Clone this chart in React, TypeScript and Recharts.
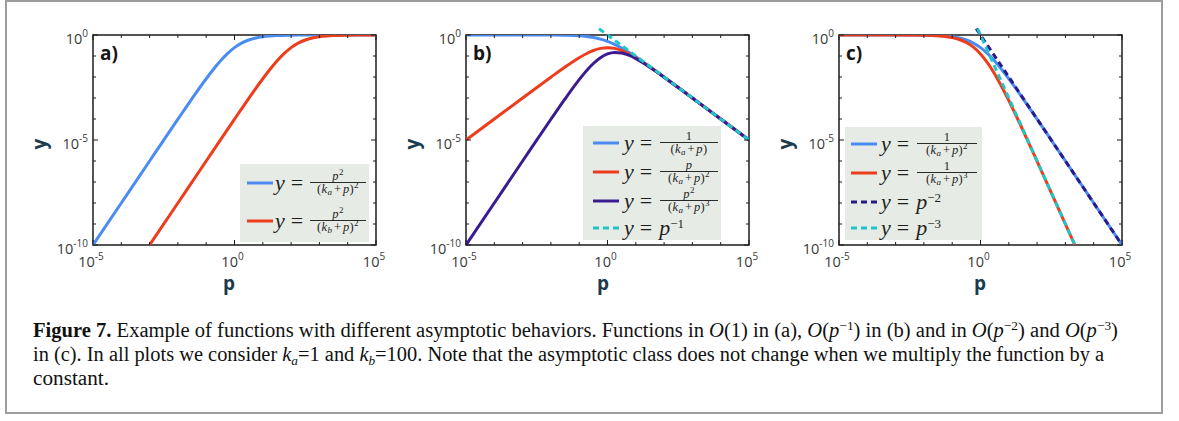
import React from 'react';
import { LineChart, Line, XAxis, YAxis, ReferenceArea } from 'recharts';

// ---- data (log10 p, log10 y) ----
const X_TICKS = [-5, -4, -3, -2, -1, 0, 1, 2, 3, 4, 5];
const Y_TICKS = [-10, -9, -8, -7, -6, -5, -4, -3, -2, -1, 0];

const P_GRID = [-5, -4, -3, -2, -1.5, -1, -0.75, -0.5, -0.25, 0, 0.25, 0.5, 0.75, 1, 1.25, 1.5, 2, 2.5, 3, 4, 5];

// panel a
const A_BLUE = [-10, -8, -6.001, -4.009, -3.027, -2.083, -1.643, -1.239, -0.887, -0.602, -0.388, -0.239, -0.142, -0.083, -0.048, -0.027, -0.009, -0.003, -0.001, 0, 0];
const P_A_RED = [-3, -2, -1, 0, 0.5, 1, 1.25, 1.5, 1.75, 2, 2.25, 2.5, 2.75, 3, 3.25, 3.5, 4, 4.5, 5];
const A_RED = [-10, -8, -6.001, -4.009, -3.027, -2.083, -1.643, -1.239, -0.887, -0.602, -0.388, -0.239, -0.142, -0.083, -0.048, -0.027, -0.009, -0.003, -0.001];

// panel b
const B_BLUE = [0, 0, -0.0004, -0.004, -0.014, -0.041, -0.071, -0.119, -0.194, -0.301, -0.444, -0.619, -0.821, -1.041, -1.274, -1.514, -2.004, -2.501, -3, -4, -5];
const B_RED = [-5, -4, -3.001, -2.009, -1.527, -1.083, -0.892, -0.739, -0.638, -0.602, -0.638, -0.739, -0.892, -1.083, -1.297, -1.527, -2.009, -2.503, -3.001, -4, -5];
const B_PURPLE = [-10, -8, -6.001, -4.013, -3.041, -2.124, -1.713, -1.358, -1.081, -0.903, -0.831, -0.858, -0.963, -1.124, -1.321, -1.541, -2.013, -2.504, -3.001, -4, -5];
const P_B_CYAN = [-0.3, 5];
const B_CYAN = [0.3, -5];

// panel c
const C_BLUE = [0, 0, -0.001, -0.009, -0.027, -0.083, -0.142, -0.239, -0.388, -0.602, -0.887, -1.239, -1.642, -2.083, -2.547, -3.027, -4.009, -5.003, -6.001, -8, -10];
const P_C_RED = [-5, -4, -3, -2, -1.5, -1, -0.75, -0.5, -0.25, 0, 0.25, 0.5, 0.75, 1, 1.25, 1.5, 2, 2.5, 3, 3.333];
const C_RED = [0, 0, -0.001, -0.013, -0.041, -0.124, -0.213, -0.358, -0.581, -0.903, -1.331, -1.858, -2.463, -3.124, -3.821, -4.541, -6.013, -7.504, -9.001, -10];
const P_C_NAVY = [-0.15, 5];
const C_NAVY = [0.3, -10];
const P_C_CYAN = [-0.1, 3.333];
const C_CYAN = [0.3, -10];

const PANEL_LABELS = ['a)', 'b)', 'c)'];

const BLUE = '#4b8cf3';
const RED = '#ee3d1c';
const PURPLE = '#3b1b92';
const NAVY = '#2b1b88';
const CYAN = '#1fc6c8';

const zip = (xs: number[], ys: number[]) => xs.map((x, i) => ({ x, y: ys[i] }));

type Series = { data: { x: number; y: number }[]; color: string; dashed?: boolean };

const PANELS: Series[][] = [
  [
    { data: zip(P_GRID, A_BLUE), color: BLUE },
    { data: zip(P_A_RED, A_RED), color: RED },
  ],
  [
    { data: zip(P_GRID, B_BLUE), color: BLUE },
    { data: zip(P_GRID, B_RED), color: RED },
    { data: zip(P_GRID, B_PURPLE), color: PURPLE },
    { data: zip(P_B_CYAN, B_CYAN), color: CYAN, dashed: true },
  ],
  [
    { data: zip(P_GRID, C_BLUE), color: BLUE },
    { data: zip(P_C_RED, C_RED), color: RED },
    { data: zip(P_C_NAVY, C_NAVY), color: NAVY, dashed: true },
    { data: zip(P_C_CYAN, C_CYAN), color: CYAN, dashed: true },
  ],
];

const PLOT_W = 283;
const PLOT_H = 210;
const TICK_FONT = '"Open Sans", "Noto Sans", sans-serif';
const TICK_COLOR = '#3a3a3a';
const FRAME = '#1c1c1c';

const XTick = (props: any) => {
  const { x, y, payload } = props;
  const v = payload.value as number;
  const major = v % 5 === 0;
  const len = major ? 5 : 3;
  return (
    <g>
      <line x1={x} y1={y} x2={x} y2={y - len} stroke={FRAME} strokeWidth={1} />
      <line x1={x} y1={y - PLOT_H} x2={x} y2={y - PLOT_H + len} stroke={FRAME} strokeWidth={1} />
      {major && (
        <text x={x - 2} y={y + 22} textAnchor="middle" fontFamily={TICK_FONT} fontSize={14.5} fill={TICK_COLOR}>
          <tspan>10</tspan>
          <tspan dy={-7} fontSize={10}>{String(v)}</tspan>
        </text>
      )}
    </g>
  );
};

const YTick = (props: any) => {
  const { x, y, payload } = props;
  const v = payload.value as number;
  const major = v % 5 === 0;
  const len = major ? 5 : 3;
  return (
    <g>
      <line x1={x} y1={y} x2={x + len} y2={y} stroke={FRAME} strokeWidth={1} />
      <line x1={x + PLOT_W} y1={y} x2={x + PLOT_W - len} y2={y} stroke={FRAME} strokeWidth={1} />
      {major && (
        <text x={x - 5} y={y + 9} textAnchor="end" fontFamily={TICK_FONT} fontSize={14.5} fill={TICK_COLOR}>
          <tspan>10</tspan>
          <tspan dy={-7} fontSize={10}>{String(v)}</tspan>
        </text>
      )}
    </g>
  );
};

function Panel({ idx }: { idx: number }) {
  const series = PANELS[idx];
  return (
    <div style={{ position: 'absolute', left: 3 + 373 * idx, top: 0 }}>
      <LineChart width={385} height={300} margin={{ top: 35, right: 12, bottom: 0, left: 0 }}>
        <XAxis
          type="number"
          dataKey="x"
          domain={[-5, 5]}
          ticks={X_TICKS}
          allowDataOverflow
          axisLine={false}
          tickLine={false}
          tickSize={0}
          tickMargin={0}
          height={55}
          interval={0}
          tick={(p: any) => <XTick {...p} />}
        />
        <YAxis
          type="number"
          domain={[-10, 0]}
          ticks={Y_TICKS}
          allowDataOverflow
          axisLine={false}
          tickLine={false}
          tickSize={0}
          tickMargin={0}
          width={90}
          interval={0}
          tick={(p: any) => <YTick {...p} />}
        />
        <ReferenceArea x1={-5} x2={5} y1={-10} y2={0} fill="none" stroke={FRAME} strokeWidth={1.5} fillOpacity={0} />
        {series.map((s, i) => (
          <Line
            key={i}
            data={s.data}
            dataKey="y"
            type="monotone"
            stroke={s.color}
            strokeWidth={3}
            strokeDasharray={s.dashed ? '6 4' : undefined}
            dot={false}
            activeDot={false}
            isAnimationActive={false}
            className={s.dashed ? 'noclip' : undefined}
          />
        ))}
      </LineChart>
    </div>
  );
}

// ---------- legends ----------
const SERIF = '"Liberation Serif", "Times New Roman", serif';

const Frac = ({ num, den, width }: { num: React.ReactNode; den: React.ReactNode; width: number }) => (
  <div style={{ position: 'absolute', width, fontFamily: SERIF, fontSize: 12.5, letterSpacing: 0.4, color: '#1e1e1e', textAlign: 'center' }}>
    <div style={{ height: 12, lineHeight: '12px', whiteSpace: 'nowrap' }}>{num}</div>
    <div style={{ borderTop: '1px solid #2a2a2a', height: 12, lineHeight: '13px', whiteSpace: 'nowrap' }}>{den}</div>
  </div>
);

const Sup = ({ children }: { children: React.ReactNode }) => (
  <span style={{ fontSize: 9, position: 'relative', top: -5, lineHeight: 0 }}>{children}</span>
);
const Sub = ({ children }: { children: React.ReactNode }) => (
  <span style={{ fontSize: 9, position: 'relative', top: 2, lineHeight: 0, fontStyle: 'italic' }}>{children}</span>
);
const I = ({ children }: { children: React.ReactNode }) => <span style={{ fontStyle: 'italic' }}>{children}</span>;

const Den = ({ k, pow }: { k: string; pow?: string }) => (
  <span>
    (<I>k</I>
    <Sub>{k}</Sub>
    <span style={{ margin: '0 1.5px' }}>+</span>
    <I>p</I>){pow ? <Sup>{pow}</Sup> : null}
  </span>
);

type LegendEntry = { color: string; dashed?: boolean; cy: number; num?: React.ReactNode; den?: React.ReactNode; power?: string };

function LegendBox({
  left, top, width, height, sampleX, yX, fracX, fracW, entries,
}: {
  left: number; top: number; width: number; height: number; sampleX: number; yX: number; fracX: number; fracW: number; entries: LegendEntry[];
}) {
  return (
    <div style={{ position: 'absolute', left, top, width, height, background: '#e7ebe5' }}>
      {entries.map((e, i) => (
        <React.Fragment key={i}>
          <svg style={{ position: 'absolute', left: sampleX, top: e.cy - 3 }} width={26} height={6}>
            <line x1={0} y1={3} x2={26} y2={3} stroke={e.color} strokeWidth={3} strokeDasharray={e.dashed ? '6 4' : undefined} />
          </svg>
          <div style={{ position: 'absolute', left: yX, top: e.cy - 11, height: 22, fontFamily: SERIF, fontSize: 22, lineHeight: '22px', color: '#1e1e1e', whiteSpace: 'nowrap' }}>
            <I>y</I>
            <span style={{ marginLeft: 6 }}>=</span>
            {e.power !== undefined && (
              <span style={{ marginLeft: 7 }}>
                <I>p</I>
                <span style={{ fontSize: 13, position: 'relative', top: -7, lineHeight: 0 }}>{e.power}</span>
              </span>
            )}
          </div>
          {e.power === undefined && (
            <div style={{ position: 'absolute', left: fracX, top: e.cy - 13 }}>
              <Frac num={e.num} den={e.den} width={fracW} />
            </div>
          )}
        </React.Fragment>
      ))}
    </div>
  );
}

// ---------- caption ----------
const CAP_FONT = '"Liberation Serif", "Times New Roman", serif';

export default function App() {
  const axisLabelStyle = { fontFamily: '"Open Sans", "Noto Sans", sans-serif', fontWeight: 700 as const, fontSize: 19, fill: '#1c3b4e' };
  const pX = [229, 603, 980];
  return (
    <div style={{ position: 'absolute', left: 0, top: 0, width: 1179, height: 421, background: '#fff', overflow: 'hidden' }}>
      <style>{`.noclip, .noclip * { clip-path: none !important; }`}</style>
      <div style={{ position: 'absolute', left: 5, top: 0, width: 1154, height: 410, border: '2px solid #9d9d9d' }} />
      {[0, 1, 2].map((i) => (
        <Panel key={i} idx={i} />
      ))}
      <svg style={{ position: 'absolute', left: 0, top: 0, pointerEvents: 'none' }} width={1179} height={421}>
        {[0, 1, 2].map((i) => (
          <g key={i}>
            <text x={93 + 373 * i + 7} y={60} fontFamily='"Open Sans", "Noto Sans", sans-serif' fontWeight={700} fontSize={19} fill="#151515">
              {PANEL_LABELS[i]}
            </text>
            <text x={pX[i]} y={290} textAnchor="middle" {...axisLabelStyle}>p</text>
            <text x={0} y={0} textAnchor="middle" transform={`translate(${46 + 373 * i},144) rotate(-90)`} {...axisLabelStyle}>y</text>
          </g>
        ))}
        <g fontFamily={CAP_FONT} fontSize={20} fill="#111">
          <text x={33} y={337} textLength={1085} lengthAdjust="spacingAndGlyphs">
            <tspan fontWeight={700}>Figure 7.</tspan>
            <tspan> Example of functions with different asymptotic behaviors. Functions in </tspan>
            <tspan fontStyle="italic">O</tspan>
            <tspan>(1) in (a), </tspan>
            <tspan fontStyle="italic">O</tspan>
            <tspan>(</tspan>
            <tspan fontStyle="italic">p</tspan>
            <tspan dy={-7} fontSize={13}>−1</tspan>
            <tspan dy={7}>) in (b) and in </tspan>
            <tspan fontStyle="italic">O</tspan>
            <tspan>(</tspan>
            <tspan fontStyle="italic">p</tspan>
            <tspan dy={-7} fontSize={13}>−2</tspan>
            <tspan dy={7}>) and </tspan>
            <tspan fontStyle="italic">O</tspan>
            <tspan>(</tspan>
            <tspan fontStyle="italic">p</tspan>
            <tspan dy={-7} fontSize={13}>−3</tspan>
            <tspan dy={7}>)</tspan>
          </text>
          <text x={33} y={361} textLength={1071} lengthAdjust="spacingAndGlyphs">
            <tspan>in (c). In all plots we consider </tspan>
            <tspan fontStyle="italic">k</tspan>
            <tspan dy={4} fontSize={13} fontStyle="italic">a</tspan>
            <tspan dy={-4}>=1 and </tspan>
            <tspan fontStyle="italic">k</tspan>
            <tspan dy={4} fontSize={13} fontStyle="italic">b</tspan>
            <tspan dy={-4}>=100. Note that the asymptotic class does not change when we multiply the function by a</tspan>
          </text>
          <text x={33} y={385} textLength={76} lengthAdjust="spacingAndGlyphs">constant.</text>
        </g>
      </svg>
      <LegendBox
        left={240} top={164} width={129} height={78}
        sampleX={7} yX={35} fracX={70} fracW={56}
        entries={[
          { color: BLUE, cy: 19, num: <span><I>p</I><Sup>2</Sup></span>, den: <Den k="a" pow="2" /> },
          { color: RED, cy: 57, num: <span><I>p</I><Sup>2</Sup></span>, den: <Den k="b" pow="2" /> },
        ]}
      />
      <LegendBox
        left={583} top={126} width={138} height={114}
        sampleX={10} yX={41} fracX={77} fracW={58}
        entries={[
          { color: BLUE, cy: 17, num: '1', den: <Den k="a" /> },
          { color: RED, cy: 46, num: <I>p</I>, den: <Den k="a" pow="2" /> },
          { color: PURPLE, cy: 75, num: <span><I>p</I><Sup>2</Sup></span>, den: <Den k="a" pow="3" /> },
          { color: CYAN, dashed: true, cy: 102, power: '−1' },
        ]}
      />
      <LegendBox
        left={845} top={127} width={137} height={113}
        sampleX={6} yX={36} fracX={72} fracW={60}
        entries={[
          { color: BLUE, cy: 17, num: '1', den: <Den k="a" pow="2" /> },
          { color: RED, cy: 46, num: '1', den: <Den k="a" pow="3" /> },
          { color: NAVY, dashed: true, cy: 75, power: '−2' },
          { color: CYAN, dashed: true, cy: 101, power: '−3' },
        ]}
      />
    </div>
  );
}
